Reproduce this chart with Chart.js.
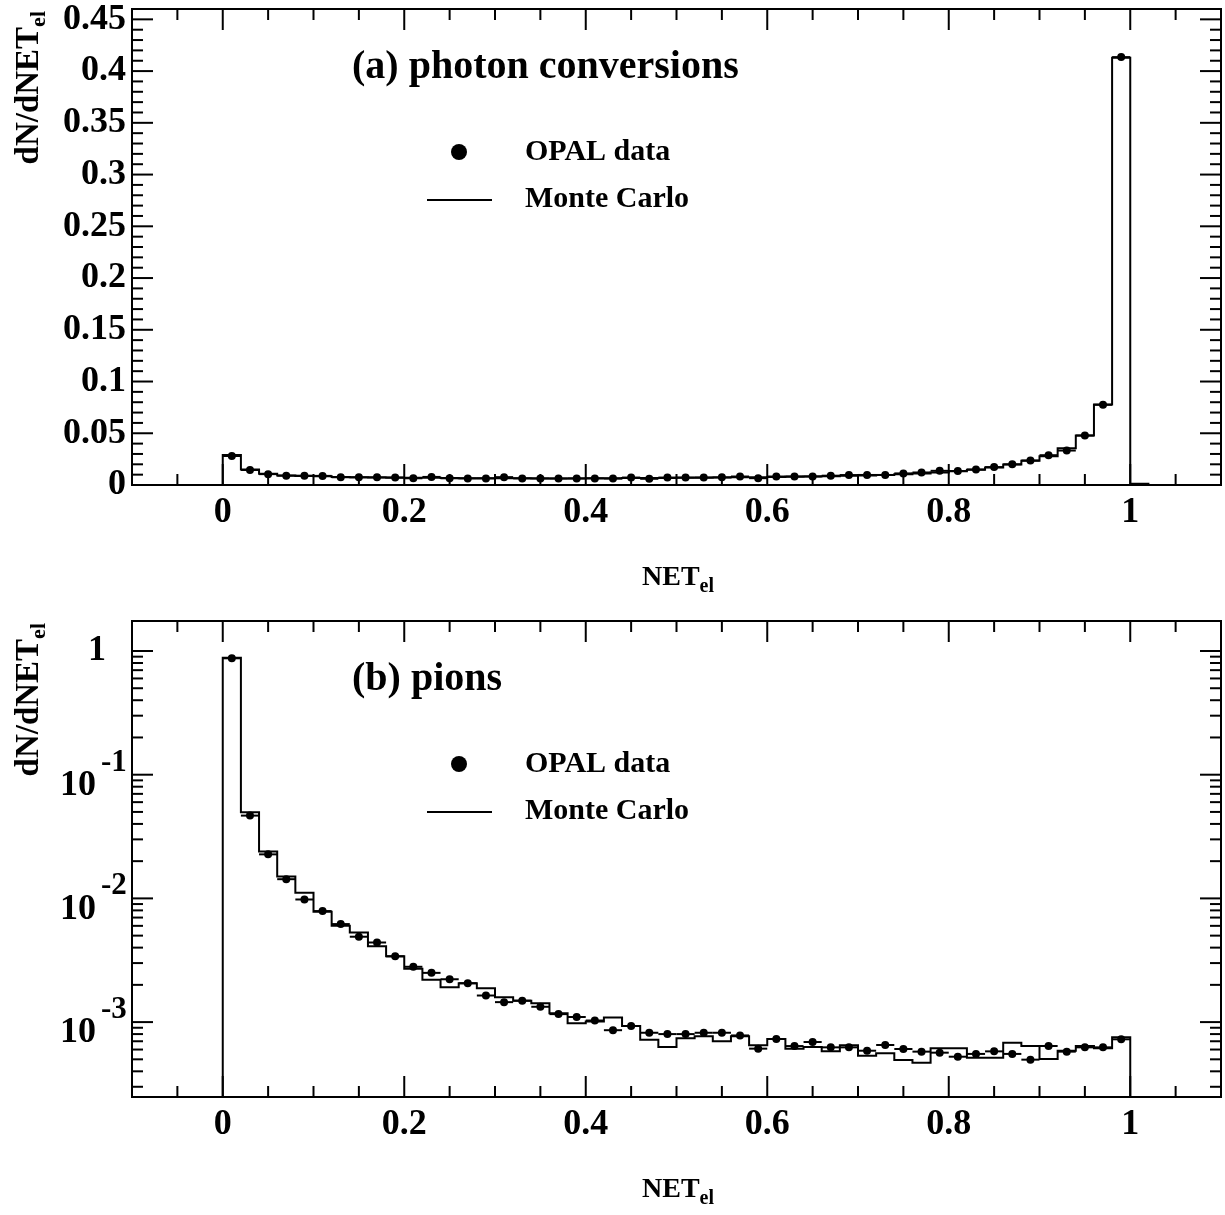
<!DOCTYPE html>
<html>
<head>
<meta charset="utf-8">
<script src="https://cdn.jsdelivr.net/npm/chart.js@4.4.0/dist/chart.umd.min.js"></script>
<style>
  body { margin: 0; background: #fff; }
  .panel { position: absolute; left: 0; width: 1225px; }
</style>
</head>
<body>
<div class="panel" style="top:0;height:607px"><canvas id="conv-chart" width="1225" height="607"></canvas></div>
<div class="panel" style="top:607px;height:608px"><canvas id="pion-chart" width="1225" height="608"></canvas></div>
<script>
// histogram binning (50 bins of 0.02 between 0 and 1)
var binWidth = 0.02;
var xTickLabels = ['0', '0.2', '0.4', '0.6', '0.8', '1'];
var convYTickLabels = ['0', '0.05', '0.1', '0.15', '0.2', '0.25', '0.3', '0.35', '0.4', '0.45'];
var pionYTickValues = [1, 0.1, 0.01, 0.001];
var pionYTickExponents = ['', '-1', '-2', '-3'];

// (a) photon conversions
var convData = [0.0280, 0.0145, 0.0105, 0.0090, 0.0090, 0.0088, 0.0075, 0.0074, 0.0074, 0.0073,
                0.0065, 0.0078, 0.0065, 0.0064, 0.0064, 0.0076, 0.0064, 0.0064, 0.0063, 0.0064,
                0.0064, 0.0062, 0.0072, 0.0060, 0.0072, 0.0072, 0.0073, 0.0074, 0.0082, 0.0066,
                0.0082, 0.0083, 0.0083, 0.0090, 0.0096, 0.0097, 0.0097, 0.0112, 0.0121, 0.0137,
                0.0135, 0.0150, 0.0173, 0.0200, 0.0237, 0.0288, 0.0333, 0.0478, 0.0775, 0.4135];
var convMC = [0.0290, 0.0150, 0.0108, 0.0092, 0.0088, 0.0085, 0.0078, 0.0075, 0.0073, 0.0071,
              0.0069, 0.0069, 0.0067, 0.0066, 0.0065, 0.0065, 0.0065, 0.0064, 0.0064, 0.0064,
              0.0065, 0.0066, 0.0067, 0.0067, 0.0068, 0.0070, 0.0071, 0.0073, 0.0075, 0.0076,
              0.0078, 0.0080, 0.0082, 0.0085, 0.0089, 0.0093, 0.0097, 0.0103, 0.0111, 0.0121,
              0.0132, 0.0147, 0.0170, 0.0197, 0.0235, 0.0278, 0.0355, 0.0478, 0.0778, 0.4130,
              0.0012];

// (b) pions
var pionData = [0.873, 0.0467, 0.0227, 0.0143, 0.0098, 0.0079, 0.0062, 0.0049, 0.0044, 0.0034,
                0.0028, 0.0025, 0.00222, 0.00206, 0.00164, 0.00145, 0.00149, 0.00133, 0.00116, 0.00110,
                0.00103, 0.00086, 0.00093, 0.00082, 0.00080, 0.00080, 0.00082, 0.00082, 0.00078, 0.00061,
                0.00073, 0.00064, 0.00069, 0.000625, 0.000625, 0.000587, 0.000653, 0.000606, 0.000577, 0.000566,
                0.000525, 0.000553, 0.00058, 0.000553, 0.000497, 0.000641, 0.000577, 0.000625, 0.000625, 0.000726];
var pionMC = [0.880, 0.0497, 0.0239, 0.0150, 0.0111, 0.0078, 0.0060, 0.0053, 0.0041, 0.0034,
              0.0027, 0.0022, 0.00191, 0.00206, 0.00188, 0.00159, 0.00149, 0.00142, 0.00118, 0.00098,
              0.00101, 0.00109, 0.00093, 0.00072, 0.00063, 0.00074, 0.00077, 0.00070, 0.00077, 0.00065,
              0.00073, 0.00061, 0.00063, 0.00058, 0.00065, 0.000535, 0.00056, 0.000493, 0.00047, 0.000614,
              0.000614, 0.000515, 0.000515, 0.000682, 0.000641, 0.000503, 0.000587, 0.000641, 0.000614, 0.000753];

var FONT = '"Liberation Serif", "DejaVu Serif", serif';

// histogram outline: one point per lower bin edge, drawn as steps
function stepPoints(values, floorVal) {
  var pts = [{ x: -0.1, y: floorVal }];
  values.forEach(function (v, i) { pts.push({ x: i * binWidth, y: v }); });
  pts.push({ x: values.length * binWidth, y: floorVal });
  pts.push({ x: 1.1, y: floorVal });
  return pts;
}

function dataPoints(values) {
  return values.map(function (v, i) { return { x: (i + 0.5) * binWidth, y: v }; });
}

function line(ctx, x1, y1, x2, y2) {
  ctx.beginPath();
  ctx.moveTo(x1, y1);
  ctx.lineTo(x2, y2);
  ctx.stroke();
}

// ROOT-like frame, ticks, labels, legend
var rootFrame = {
  id: 'rootFrame',
  afterDatasetsDraw: function (chart) {
    // horizontal bars of the data points (bin width)
    var ctx = chart.ctx, xs = chart.scales.x, ys = chart.scales.y, a = chart.chartArea;
    ctx.save();
    ctx.beginPath();
    ctx.rect(a.left, a.top, a.right - a.left, a.bottom - a.top);
    ctx.clip();
    ctx.strokeStyle = '#000';
    ctx.lineWidth = 2;
    chart.data.datasets[1].data.forEach(function (p) {
      var y = ys.getPixelForValue(p.y);
      line(ctx, xs.getPixelForValue(p.x - binWidth / 2), y, xs.getPixelForValue(p.x + binWidth / 2), y);
    });
    ctx.restore();
  },
  afterDraw: function (chart, args, opts) {
    var ctx = chart.ctx, xs = chart.scales.x, ys = chart.scales.y, a = chart.chartArea;
    ctx.save();
    ctx.strokeStyle = '#000';
    ctx.fillStyle = '#000';
    ctx.lineWidth = 2;
    ctx.strokeRect(a.left, a.top, a.right - a.left, a.bottom - a.top);

    // x ticks, major every 0.2, minor every 0.05
    for (var k = -1; k <= 21; k++) {
      var len = (k % 4 === 0) ? 21 : 11;
      var px = xs.getPixelForValue(k * 0.05);
      line(ctx, px, a.bottom, px, a.bottom - len);
      line(ctx, px, a.top, px, a.top + len);
    }
    // y ticks
    var yt = [];
    if (opts.log) {
      for (var n = -4; n <= 0; n++) {
        for (var m = 1; m <= 9; m++) {
          var v = m * Math.pow(10, n);
          if (v > ys.min && v < ys.max) yt.push({ v: v, major: m === 1 });
        }
      }
    } else {
      for (var j = 1; j <= 45; j++) yt.push({ v: j * 0.01, major: j % 5 === 0 });
    }
    yt.forEach(function (t) {
      var py = ys.getPixelForValue(t.v);
      var len = t.major ? 21 : 11;
      line(ctx, a.left, py, a.left + len, py);
      line(ctx, a.right, py, a.right - len, py);
    });

    // x tick labels
    ctx.font = 'bold 36px ' + FONT;
    ctx.textAlign = 'center';
    ctx.textBaseline = 'middle';
    xTickLabels.forEach(function (lab) {
      ctx.fillText(lab, xs.getPixelForValue(parseFloat(lab)), a.bottom + 28);
    });
    // y tick labels
    if (opts.log) {
      pionYTickValues.forEach(function (v, i) {
        var py = ys.getPixelForValue(v);
        if (pionYTickExponents[i] === '') {
          ctx.font = 'bold 36px ' + FONT;
          ctx.textAlign = 'center';
          ctx.fillText('1', 97, py);
        } else {
          ctx.font = 'bold 36px ' + FONT;
          ctx.textAlign = 'right';
          ctx.fillText('10', 96, py + 11);
          ctx.font = 'bold 31px ' + FONT;
          ctx.textAlign = 'left';
          ctx.fillText(pionYTickExponents[i], 101, py - 12);
        }
      });
    } else {
      ctx.font = 'bold 36px ' + FONT;
      ctx.textAlign = 'right';
      convYTickLabels.forEach(function (lab) {
        ctx.fillText(lab, 126, ys.getPixelForValue(parseFloat(lab)));
      });
    }

    // x title
    ctx.textAlign = 'left';
    ctx.textBaseline = 'alphabetic';
    ctx.font = 'bold 28px ' + FONT;
    ctx.fillText('NET', 642, a.bottom + 100);
    var wNet = ctx.measureText('NET').width;
    ctx.font = 'bold 20px ' + FONT;
    ctx.fillText('el', 642 + wNet, a.bottom + 107);

    // y title (rotated)
    ctx.save();
    ctx.translate(38, 0);
    ctx.rotate(-Math.PI / 2);
    ctx.font = 'bold 33px ' + FONT;
    var wMain = ctx.measureText('dN/dNET').width;
    ctx.font = 'bold 22px ' + FONT;
    var wSub = ctx.measureText('el').width;
    var start = -(a.top + 2 + wMain + wSub);
    ctx.font = 'bold 33px ' + FONT;
    ctx.fillText('dN/dNET', start, 0);
    ctx.font = 'bold 22px ' + FONT;
    ctx.fillText('el', start + wMain, 7);
    ctx.restore();

    // panel title and legend
    ctx.font = 'bold 40px ' + FONT;
    ctx.fillText(opts.title, 352, a.top + 69);
    ctx.beginPath();
    ctx.arc(459, a.top + 143, 8, 0, Math.PI * 2);
    ctx.fill();
    ctx.font = 'bold 30px ' + FONT;
    ctx.fillText('OPAL data', 525, a.top + 151);
    line(ctx, 427, a.top + 191, 492, a.top + 191);
    ctx.fillText('Monte Carlo', 525, a.top + 198);
    ctx.restore();
  }
};

function makeChart(id, mc, data, floorVal, yScale, padding, frameOpts) {
  return new Chart(document.getElementById(id), {
    type: 'line',
    data: {
      datasets: [
        {
          label: 'Monte Carlo',
          data: stepPoints(mc, floorVal),
          stepped: 'before',
          borderColor: '#000',
          borderWidth: 2,
          pointRadius: 0,
          fill: false,
          clip: 0
        },
        {
          label: 'OPAL data',
          data: dataPoints(data),
          showLine: false,
          pointRadius: 4,
          pointStyle: 'circle',
          pointBackgroundColor: '#000',
          pointBorderColor: '#000',
          pointBorderWidth: 0
        }
      ]
    },
    options: {
      responsive: false,
      animation: false,
      devicePixelRatio: 1,
      layout: { padding: padding },
      scales: {
        x: { type: 'linear', min: -0.1, max: 1.1, display: false },
        y: yScale
      },
      plugins: {
        legend: { display: false },
        tooltip: { enabled: false },
        rootFrame: frameOpts
      }
    },
    plugins: [rootFrame]
  });
}

makeChart('conv-chart', convMC, convData, 0,
  { type: 'linear', min: 0, max: 0.46, display: false },
  { left: 132, right: 4, top: 9, bottom: 122 },
  { log: false, title: '(a) photon conversions' });

makeChart('pion-chart', pionMC, pionData, 2.48e-4,
  { type: 'logarithmic', min: 2.48e-4, max: 1.748, display: false },
  { left: 132, right: 4, top: 14, bottom: 118 },
  { log: true, title: '(b) pions' });
</script>
</body>
</html>
